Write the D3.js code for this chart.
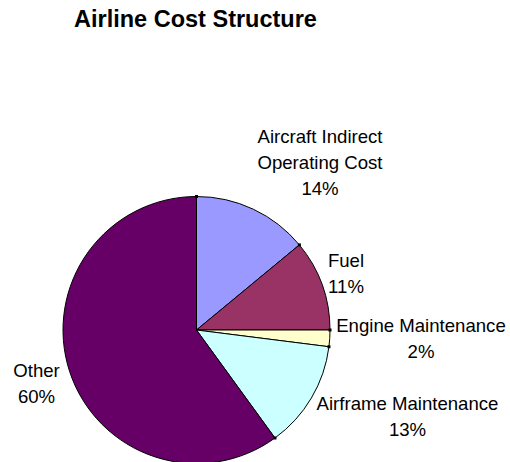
<!DOCTYPE html>
<html>
<head>
<meta charset="utf-8">
<script src="https://cdn.jsdelivr.net/npm/d3@7"></script>
<style>
  html, body { margin: 0; padding: 0; background: #fff; }
  svg { display: block; }
  text { font-family: "Liberation Sans", Arial, sans-serif; fill: #000; }
</style>
</head>
<body>
<svg id="chart" width="510" height="462"></svg>
<script>
// Cost shares, clockwise from 12 o'clock
const categories = ["Aircraft Indirect Operating Cost", "Fuel", "Engine Maintenance", "Airframe Maintenance", "Other"];
const shares = [14, 11, 2, 13, 60];
const sliceColors = ["#9999FF", "#993366", "#FFFFCC", "#CCFFFF", "#660066"];
// Label lines for each slice
const labelLines = [
  ["Aircraft Indirect", "Operating Cost", "14%"],
  ["Fuel", "11%"],
  ["Engine Maintenance", "2%"],
  ["Airframe Maintenance", "13%"],
  ["Other", "60%"]
];

const svg = d3.select("#chart");
const cx = 196.5, cy = 330, R = 133.5;

svg.append("text")
  .attr("x", 195.5).attr("y", 27)
  .attr("text-anchor", "middle")
  .style("font-size", "23.5px").style("font-weight", "bold")
  .text("Airline Cost Structure");

const data = categories.map((c, i) => ({ name: c, value: shares[i], color: sliceColors[i], lines: labelLines[i] }));

const pie = d3.pie().sort(null).value(d => d.value).startAngle(0).endAngle(2 * Math.PI);
const arcs = pie(data);
const arc = d3.arc().innerRadius(0).outerRadius(R);

const g = svg.append("g").attr("transform", `translate(${cx},${cy})`);

g.selectAll("path.slice")
  .data(arcs)
  .join("path")
  .attr("class", "slice")
  .attr("d", arc)
  .attr("fill", d => d.data.color)
  .attr("stroke", "#000")
  .attr("stroke-width", 1)
  .attr("stroke-linejoin", "round");

// small leader ticks at each slice's starting edge on the rim
g.selectAll("rect.tick")
  .data(arcs)
  .join("rect")
  .attr("class", "tick")
  .attr("x", d => R * Math.sin(d.startAngle) - 1.5)
  .attr("y", d => -R * Math.cos(d.startAngle) - 1.5)
  .attr("width", 3).attr("height", 3)
  .attr("fill", "#000");

// label anchor positions (centre x, first baseline y), relative to the pie centre
const labelPos = [
  [123.5, -187],
  [149.5, -63],
  [224.5, 2],
  [211, 80],
  [-160, 47]
];
const lineGap = 26;

const labels = g.selectAll("text.lbl")
  .data(arcs)
  .join("text")
  .attr("class", "lbl")
  .attr("text-anchor", "middle")
  .style("font-size", "18.6px");

labels.each(function(d, i) {
  const t = d3.select(this);
  d.data.lines.forEach((ln, k) => {
    t.append("tspan")
      .attr("x", labelPos[i][0])
      .attr("y", labelPos[i][1] + k * lineGap)
      .text(ln);
  });
});
</script>
</body>
</html>
